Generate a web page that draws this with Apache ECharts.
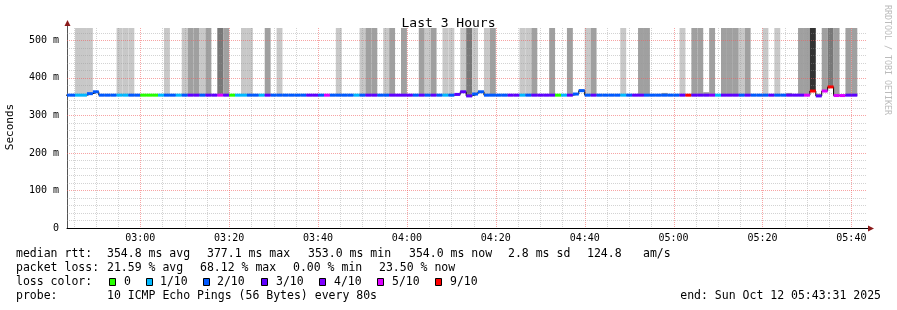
<!DOCTYPE html>
<html><head><meta charset="utf-8">
<script src="https://cdn.jsdelivr.net/npm/echarts@6/dist/echarts.min.js"></script>
<style>html,body{margin:0;padding:0;background:#fff}#c{width:897px;height:310px}</style>
</head><body><div id="c"></div>
<script>
// ---- data (80 s steps, first step starts 02:42:40) ----
const stepStartSec = 9760;   // seconds of day
const stepSec = 80;
const axisStartSec = 9811;   // 02:43:31
const axisEndSec = 20611;    // 05:43:31
const yMaxMs = 533;

const medianMs = [
354,354,354,354,358,363,354,354,354,354,
354,354,354,354,354,354,354,354,354,354,
354,354,354,354,354,354,354,354,354,354,
354,354,354,354,354,354,354,354,354,354,
354,354,354,354,354,354,354,354,354,354,
354,354,354,354,354,354,354,354,354,354,
354,354,354,354,354,354,356,363,352,357,
363,354,354,354,354,354,354,354,354,354,
354,354,354,354,354,354,357,366,354,354,
354,354,354,354,354,354,354,354,354,354,
354,354,354,354,354,354,354,354,354,354,
354,354,354,354,354,354,354,354,354,354,
354,354,354,354,354,354,365,352,365,376,
353,353,354,354];

const lossCount = [
2,2,1,1,2,2,2,2,2,1,
1,2,2,0,0,0,1,2,2,1,
2,3,3,2,3,3,5,3,0,1,
1,2,2,1,3,2,2,2,2,2,
2,3,3,2,5,2,2,2,2,1,
2,3,3,2,2,3,3,3,3,2,
3,2,3,2,1,2,3,3,3,2,
2,2,2,2,2,3,3,1,2,3,
3,3,3,0,1,3,2,2,2,3,
2,2,2,2,1,2,3,3,2,2,
2,2,2,2,3,9,3,3,3,4,
1,3,3,3,2,3,2,2,2,3,
2,2,3,3,3,5,9,3,5,9,
5,5,3,3];

// smoke shade: 0 none, 1 light, 2 medium, 3 dark, 4 darkest
const smokeShade = [
0,0,1,1,1,0,0,0,0,1,
1,1,0,0,0,0,0,1,0,0,
1,2,2,1,2,0,3,2,0,0,
1,1,0,0,2,0,1,0,0,0,
0,0,0,0,0,0,1,0,0,0,
1,2,2,0,1,2,0,2,0,0,
2,1,2,0,1,1,0,1,3,1,
0,1,2,0,0,0,0,1,1,2,
0,0,2,0,0,2,0,2,1,2,
0,0,0,0,1,0,0,2,2,0,
0,2,0,0,1,0,2,2,2,2,
0,2,2,2,1,2,0,0,1,0,
1,0,2,0,2,2,4,2,2,3,
2,0,2,2];

// smoke top (ms) where the smoke does not reach the top of the graph; 0 = to the top
const smokeTopMs = [
0,0,0,0,0,0,0,0,0,0,
0,0,0,0,0,0,0,0,0,0,
0,0,0,0,0,0,0,0,0,0,
0,0,0,0,0,0,0,0,0,0,
0,0,0,0,0,0,0,0,0,0,
0,0,0,0,0,0,0,0,0,0,
0,0,0,0,0,0,0,0,0,0,
0,0,0,0,0,0,0,0,0,0,
0,0,0,0,0,0,0,370,0,0,
0,0,0,0,0,0,0,0,0,0,
0,360,0,0,0,0,0,0,362,0,
0,0,0,0,0,0,0,0,0,0,
0,0,360,0,0,0,0,358,0,0,
0,0,0,0];

const lossLabels = ['0','1/10','2/10','3/10','4/10','5/10','9/10'];
const lossLevels = [0,1,2,3,4,5,9];
const xTickSec = [10800,12000,13200,14400,15600,16800,18000,19200,20400];
const xTickLabels = ['03:00','03:20','03:40','04:00','04:20','04:40','05:00','05:20','05:40'];
const yTickMs = [0,100,200,300,400,500];
const yTickLabels = ['0','100 m','200 m','300 m','400 m','500 m'];

const statsRtt = ['354.8 ms avg','377.1 ms max','353.0 ms min','354.0 ms now','2.8 ms sd','124.8','am/s'];
const statsLoss = ['21.59 % avg','68.12 % max','0.00 % min','23.50 % now'];

// ---- styles ----
const lossColors = {0:'#26ff00',1:'#00b8ff',2:'#0059ff',3:'#5e00ff',4:'#7e00ff',5:'#dd00ff',9:'#ff0000'};
const shadeColors = [null,'#c8c8c8','#a0a0a0','#787878','#333333'];
const FONT = '"DejaVu Sans Mono", monospace';
const minorGrid = 'rgba(150,150,150,0.42)', majorGrid = 'rgba(240,90,90,0.55)';

const rows = medianMs.map((v,i)=>[stepStartSec+i*stepSec, stepStartSec+(i+1)*stepSec, v, lossCount[i], smokeShade[i], smokeTopMs[i] || yMaxMs]);
const stepLine = rows.map(r=>[r[0], r[2]]);
stepLine.push([rows[rows.length-1][1], rows[rows.length-1][2]]);

// grid positions (5 min / 20 ms minor, 20 min / 100 ms major)
const vGrid=[];
for (let s = 9900; s < axisEndSec; s += 300) vGrid.push([s, 0, s % 1200 === 0 ? 1 : 0]);
const hGrid=[];
for (let v = 20; v < yMaxMs; v += 20) hGrid.push([axisStartSec, v, v % 100 === 0 ? 1 : 0]);

function clampRect(params, a, b){
  const cs = params.coordSys;
  const x0 = Math.max(a, cs.x), x1 = Math.min(b, cs.x + cs.width);
  return [x0, x1];
}

const chart = echarts.init(document.getElementById('c'), null, {renderer:'canvas'});

chart.setOption({
  animation:false,
  backgroundColor:'#fff',
  title:{text:'Last 3 Hours', left:'center', top:12, textStyle:{fontFamily:FONT, fontSize:13, fontWeight:'normal', color:'#000'}},
  grid:{left:67, top:28, width:800, height:200, containLabel:false},
  xAxis:{type:'value', min:axisStartSec, max:axisEndSec,
    axisLine:{show:true, lineStyle:{color:'#000', width:1}},
    axisTick:{show:false},
    splitLine:{show:false},
    axisLabel:{customValues:xTickSec, margin:5, fontFamily:FONT, fontSize:10, color:'#000',
      formatter:(v)=>{const i=xTickSec.indexOf(v); return i>=0?xTickLabels[i]:'';}}},
  yAxis:{type:'value', min:0, max:yMaxMs,
    axisLine:{show:true, lineStyle:{color:'#555', width:1}},
    axisTick:{show:false},
    splitLine:{show:false},
    axisLabel:{customValues:yTickMs, margin:8, fontFamily:FONT, fontSize:10, color:'#000',
      formatter:(v)=>{const i=yTickMs.indexOf(v); return i>=0?yTickLabels[i]:'';}}},
  series:[
    {type:'custom', name:'smoke', z:1, silent:true, data:rows, encode:{x:[0,1], y:2},
      renderItem:(params, api)=>{
        const sh = api.value(4);
        if (!sh) return null;
        const a = api.coord([api.value(0), api.value(5)]);
        const b = api.coord([api.value(1), api.value(2)]);
        const [x0,x1] = clampRect(params, a[0], b[0]);
        if (x1<=x0) return null;
        return {type:'rect', shape:{x:x0, y:a[1], width:x1-x0, height:b[1]-a[1]}, style:{fill:shadeColors[sh]}};
      }},
    {type:'custom', name:'vgrid', z:2, silent:true, data:vGrid, encode:{x:0, y:1},
      renderItem:(params, api)=>{
        const b = api.coord([api.value(0), 0]);
        const t = api.coord([api.value(0), yMaxMs]);
        const x = Math.round(b[0]) + 0.5;
        return {type:'line', shape:{x1:x, y1:t[1], x2:x, y2:b[1]},
          style:{stroke: api.value(2) ? majorGrid : minorGrid, lineWidth:1, lineDash:[1,1]}};
      }},
    {type:'custom', name:'hgrid', z:2, silent:true, data:hGrid, encode:{x:0, y:1},
      renderItem:(params, api)=>{
        const l = api.coord([axisStartSec, api.value(1)]);
        const r = api.coord([axisEndSec, api.value(1)]);
        const y = Math.round(l[1]) + 0.5;
        return {type:'line', shape:{x1:l[0], y1:y, x2:r[0], y2:y},
          style:{stroke: api.value(2) ? majorGrid : minorGrid, lineWidth:1, lineDash:[1,1]}};
      }},
    {type:'line', name:'outline', z:3, step:'end', data:stepLine, showSymbol:false, silent:true,
      lineStyle:{color:'#000', width:1}, clip:true},
    {type:'custom', name:'median', z:4, silent:true, data:rows, encode:{x:[0,1], y:2},
      renderItem:(params, api)=>{
        const a = api.coord([api.value(0), api.value(2)]);
        const b = api.coord([api.value(1), api.value(2)]);
        const [x0,x1] = clampRect(params, a[0], b[0]);
        if (x1<=x0) return null;
        return {type:'rect', shape:{x:x0, y:a[1]-1.5, width:x1-x0, height:3}, style:{fill:lossColors[api.value(3)]}};
      }}
  ]
});

// ---- decorations / texts ----
const o = chart.convertToPixel({gridIndex:0}, [axisStartSec, 0]);
const xe = chart.convertToPixel({gridIndex:0}, [axisEndSec, 0]);
const ye = chart.convertToPixel({gridIndex:0}, [axisStartSec, yMaxMs]);
const arrowCol = '#8b1a1a';
const g = [];
g.push({type:'line', shape:{x1:o[0]+0.5, y1:ye[1], x2:o[0]+0.5, y2:ye[1]-4}, style:{stroke:'#555', lineWidth:1}});
g.push({type:'polygon', shape:{points:[[o[0]-2.5, ye[1]-2],[o[0]+3.5, ye[1]-2],[o[0]+0.5, ye[1]-8]]}, style:{fill:arrowCol}});
g.push({type:'line', shape:{x1:xe[0], y1:o[1]+0.5, x2:xe[0]+2, y2:o[1]+0.5}, style:{stroke:'#000', lineWidth:1}});
g.push({type:'polygon', shape:{points:[[xe[0]+1, o[1]-2.5],[xe[0]+1, o[1]+3.5],[xe[0]+7, o[1]+0.5]]}, style:{fill:arrowCol}});

const txt = (s, x, y, opts={}) => ({type:'text', x:x, y:y, rotation:opts.rot||0, silent:true,
  style:{text:s, fill:opts.color||'#000', font:(opts.size||11.5)+'px '+FONT, textAlign:opts.align||'left', textVerticalAlign:'middle'}});

g.push(txt('Seconds', 10, 127, {rot:Math.PI/2, align:'center', size:11}));
g.push(txt('RRDTOOL / TOBI OETIKER', 887, 60, {rot:-Math.PI/2, align:'center', size:8.3, color:'#bbbbbb'}));

const r1 = [16,107,207,308,409,508,587,643];
g.push(txt('median rtt:', r1[0], 254));
statsRtt.forEach((s,i)=>g.push(txt(s, r1[i+1], 254)));
const r2 = [16,107,200,293,379];
g.push(txt('packet loss:', r2[0], 268));
statsLoss.forEach((s,i)=>g.push(txt(s, r2[i+1], 268)));
g.push(txt('loss color:', 16, 282));
const boxX = [109,146,203,261,319,377,435];
const labX = [124,160,217,276,334,392,450];
lossLevels.forEach((lv,i)=>{
  g.push({type:'rect', shape:{x:boxX[i]+0.5, y:278.5, width:6, height:7}, style:{fill:lossColors[lv], stroke:'#000', lineWidth:1}, silent:true});
  g.push(txt(lossLabels[i], labX[i], 282));
});
g.push(txt('probe:', 16, 296));
g.push(txt('10 ICMP Echo Pings (56 Bytes) every 80s', 107, 296));
g.push(txt('end: Sun Oct 12 05:43:31 2025', 881, 296, {align:'right'}));
chart.setOption({graphic:g});
</script></body></html>
